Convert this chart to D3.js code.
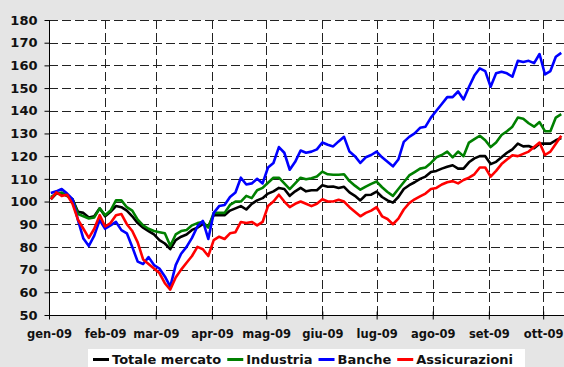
<!DOCTYPE html>
<html>
<head>
<meta charset="utf-8">
<script src="https://cdnjs.cloudflare.com/ajax/libs/d3/7.8.5/d3.min.js"></script>
<style>
body { margin: 0; background: #e5e5e5; }
svg { display: block; }
</style>
</head>
<body>
<div class="container"></div>
<script>
// values, one point every 3 days from 2 Jan 2009
var dates = d3.timeDay.range(new Date(2009, 0, 2), new Date(2009, 9, 13), 3)

var seriesNames = ['Totale mercato', 'Industria', 'Banche', 'Assicurazioni']
var seriesColors = ['#000000', '#008000', '#0000ff', '#ff0000']

var totale = [101,103.5,103.5,102.5,101,95.5,95,93,93.5,97, 93.5,95.5,98,97.5,96,93.5,90.5,88.5,87,85.5,
    83,81.5,79,83,84.5,85.5,87.5,88.5,90,89, 94,94,94,96,97,98,96.5,99,100.5,101.5,
    103.5,104.5,106,105.5,102.5,104.5,106,104.5,105,105, 107.2,106.5,106.6,106,106.5,104,102.5,100.5,102.9,103,
    104.4,102,100.5,99.5,102,105.5,107.2,108.5,110,111, 113,113.5,114.5,115.3,116,114.5,114.5,117.3,119,120,
    120,116.5,117.5,119.5,121.5,123,125.5,124.3,124.5,123.5, 125.5,125.5,125.5,127,128]

var industria = [102,103.5,104,102.5,101,94.5,93.5,92.5,93,97, 94,96,100.5,100.5,97.5,96,92,89.5,88,87,
    86.5,86,80.5,85.5,87,87.5,89.5,90.5,91,88.5, 95,95,95,98.5,100,100,102.5,101.5,105,106,
    108.3,110.5,110.5,108,105.5,108,110.5,109.8,110.3,111, 113.2,112,111.8,111.8,112,109,107,105.2,106.6,107.8,
    108.8,106.3,104.2,102.5,105.5,108.5,111.5,113,114.5,115, 117,119.5,120.5,122,119.5,122,120,126,127.5,129,
    127,124,126,129.3,131,133,137,136.5,134.5,133, 135,131,131,137,138.5]

var banche = [103.8,104.5,105.5,103.5,101,91.8,83.7,80.4,85,91.8, 88,89.5,91,87.4,86,80,73.5,72.5,75.5,72,
    70.5,67,62.5,72,77,80,84,89,91.5,83.5, 95,98,98.5,102,104,110.5,107.5,108,110,108,
    115,117,124,121.5,114,117.5,122.5,121.5,122,123, 126,125,124.3,126.5,128.5,122,120,117,119.5,120.5,
    122,119.5,117.5,115.5,118.5,126.3,128.5,130,132.5,133, 137,140,143,146,146,148.5,145,150.5,155.5,158.7,
    157.5,150.6,156.5,157.2,156.5,155,162,161.5,162,161, 165,156,157.5,163.8,165.5]

var assicurazioni = [101,104,102.5,103,99,92,88,84,88,94, 89,90.5,94,94.5,90,87,82,74.5,72.5,70.5,
    68.5,64,61.2,66.5,70,73,76,80,79,76, 83,84.5,83.5,86,86.5,91,90.5,91,89.5,91,
    98,100,103,100,97.5,99,100,99,98,99, 101,100,100,100.8,100,97.5,95.5,93.5,95,96,
    97.5,93.5,92.3,90,92.5,96.5,99.3,101,102.3,103.5, 105.5,106,107.5,108.5,109,108,109.5,110.5,112,115,
    115,111,113.5,116.5,118.5,120.4,120,121,122,124, 126,120.5,122,125.5,129]

var monthLabels = ['gen-09','feb-09','mar-09','apr-09','mag-09','giu-09','lug-09','ago-09','set-09','ott-09']
var yTicks = [50,60,70,80,90,100,110,120,130,140,150,160,170,180]

var series = [totale, industria, banche, assicurazioni].map(function(vals, i) {
    return {
        name: seriesNames[i],
        color: seriesColors[i],
        values: vals.map(function(v, j) { return { date: dates[j], value: v } })
    }
})

var w = 564, h = 367
var pLeft = 49, pTop = 20, pBottom = 315, pRight = 568.5
var font = "'DejaVu Sans', Verdana, sans-serif"

var svg = d3.select('.container')
    .append('svg')
    .attr('width', w)
    .attr('height', h)

svg.append('rect')
    .attr('width', '100%')
    .attr('height', '100%')
    .style('fill', '#e5e5e5')

var x = d3.scaleTime()
    .domain([new Date(2009, 0, 1), new Date(2009, 9, 15)])
    .range([pLeft, pRight])

var y = d3.scaleLinear()
    .domain([50, 180])
    .range([pBottom, pTop])

svg.append('rect')
    .attr('x', pLeft)
    .attr('y', pTop)
    .attr('width', pRight - pLeft)
    .attr('height', pBottom - pTop)
    .style('fill', 'white')

var months = d3.timeMonth.range(new Date(2009, 0, 1), new Date(2009, 9, 2))

// dashed grid
svg.append('g')
    .selectAll('line')
    .data(yTicks.slice(1))
    .enter()
    .append('line')
    .attr('x1', pLeft)
    .attr('x2', pRight)
    .attr('y1', d => Math.round(y(d)) + 0.5)
    .attr('y2', d => Math.round(y(d)) + 0.5)
    .style('stroke', '#222')
    .style('stroke-dasharray', '9,4')

svg.append('g')
    .selectAll('line')
    .data(months.slice(1))
    .enter()
    .append('line')
    .attr('x1', d => Math.round(x(d)) + 0.5)
    .attr('x2', d => Math.round(x(d)) + 0.5)
    .attr('y1', pTop)
    .attr('y2', pBottom)
    .style('stroke', '#222')
    .style('stroke-dasharray', '9,4')

var line = d3.line()
    .x(d => x(d.date))
    .y(d => y(d.value))

svg.append('g')
    .selectAll('path')
    .data(series)
    .enter()
    .append('path')
    .attr('d', d => line(d.values))
    .style('fill', 'none')
    .style('stroke', d => d.color)
    .style('stroke-width', 2.6)
    .style('stroke-linejoin', 'round')

// axes
var yAxis = svg.append('g')
    .attr('transform', 'translate(' + (pLeft + 0.5) + ',0)')
    .call(d3.axisLeft(y).tickValues(yTicks).tickSize(5).tickPadding(7))

yAxis.select('.domain').attr('d', 'M0,' + pTop + 'V' + pBottom)
yAxis.selectAll('text')
    .style('font-family', font)
    .style('font-weight', 'bold')
    .style('font-size', '13px')
    .style('fill', '#111')

var xAxis = svg.append('g')
    .attr('transform', 'translate(0,' + (pBottom + 0.5) + ')')
    .call(d3.axisBottom(x).tickValues(months).tickSize(4).tickFormat((d, i) => monthLabels[i]))

xAxis.select('.domain').attr('d', 'M' + pLeft + ',0H' + pRight)
xAxis.selectAll('.tick line').attr('y1', -4).attr('y2', 4)
xAxis.selectAll('text')
    .attr('y', 22)
    .attr('dy', 0)
    .style('font-family', font)
    .style('font-weight', 'bold')
    .style('font-size', '11.5px')
    .style('fill', '#111')

// legend
var legend = svg.append('g')

legend.append('rect')
    .attr('x', 88)
    .attr('y', 349)
    .attr('width', 437)
    .attr('height', 30)
    .style('fill', 'white')

var lx = 93
series.forEach(function(s) {
    legend.append('line')
        .attr('x1', lx)
        .attr('x2', lx + 16)
        .attr('y1', 359.5)
        .attr('y2', 359.5)
        .style('stroke', s.color)
        .style('stroke-width', 3)
    var t = legend.append('text')
        .attr('x', lx + 19)
        .attr('y', 364)
        .style('font-family', font)
        .style('font-weight', 'bold')
        .style('font-size', '13px')
        .style('fill', '#111')
        .text(s.name)
    lx += 19 + t.node().getComputedTextLength() + 6
})
</script>
</body>
</html>
